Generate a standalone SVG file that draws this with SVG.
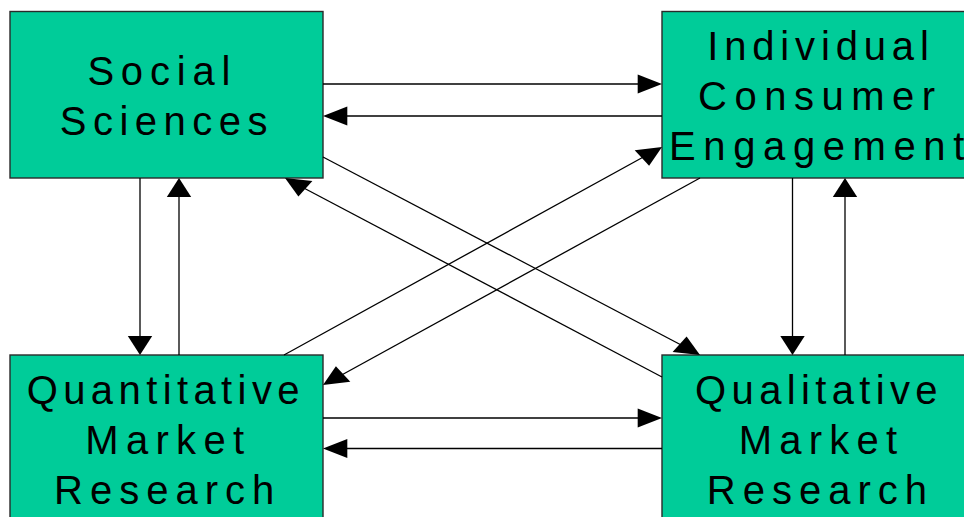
<svg xmlns="http://www.w3.org/2000/svg" width="964" height="517" viewBox="0 0 964 517">
  <style>
    .box { fill: #00CC99; stroke: #2a2a2a; stroke-width: 1.4; }
    .lbl { font-family: "Liberation Sans", Arial, sans-serif; font-size: 40px; fill: #000; }
    .ln { stroke: #000; stroke-width: 1.3; fill: none; }
    .head { fill: #000; stroke: none; }
  </style>
  <rect width="964" height="517" fill="#fff"/>

  <g id="social-sciences">
    <rect class="box" x="10" y="11.5" width="313" height="166.5"/>
    <text class="lbl" x="87.4" y="85" letter-spacing="6.8">Social</text>
    <text class="lbl" x="59.8" y="135" letter-spacing="6.5">Sciences</text>
  </g>

  <g id="individual-consumer-engagement">
    <rect class="box" x="662" y="11.5" width="310" height="166.5"/>
    <text class="lbl" x="707.2" y="60" letter-spacing="5.85">Individual</text>
    <text class="lbl" x="698" y="110" letter-spacing="7.5">Consumer</text>
    <text class="lbl" x="669.1" y="159.5" letter-spacing="7.6">Engagement</text>
  </g>

  <g id="quantitative-market-research">
    <rect class="box" x="10" y="355" width="313" height="175"/>
    <text class="lbl" x="26.7" y="403.5" letter-spacing="5.4">Quantitative</text>
    <text class="lbl" x="85.3" y="454" letter-spacing="7.3">Market</text>
    <text class="lbl" x="54.1" y="504" letter-spacing="7">Research</text>
  </g>

  <g id="qualitative-market-research">
    <rect class="box" x="662" y="355" width="310" height="175"/>
    <text class="lbl" x="695.1" y="403.5" letter-spacing="5.35">Qualitative</text>
    <text class="lbl" x="738.7" y="454" letter-spacing="7.25">Market</text>
    <text class="lbl" x="706.8" y="504" letter-spacing="7">Research</text>
  </g>

  <g id="connectors">
    <!-- top pair: Social Sciences <-> Individual Consumer Engagement -->
    <line class="ln" x1="323" y1="84" x2="640" y2="84"/>
    <polygon class="head" points="662,84 637.7,74.5 637.7,93.5"/>
    <line class="ln" x1="662" y1="116" x2="345" y2="116"/>
    <polygon class="head" points="323,116 347.3,106.5 347.3,125.5"/>

    <!-- bottom pair: Quantitative <-> Qualitative -->
    <line class="ln" x1="323" y1="418" x2="640" y2="418"/>
    <polygon class="head" points="662,418 637.7,408.5 637.7,427.5"/>
    <line class="ln" x1="662" y1="448.5" x2="345" y2="448.5"/>
    <polygon class="head" points="323,448.5 347.3,439 347.3,458"/>

    <!-- left pair: Social Sciences <-> Quantitative -->
    <line class="ln" x1="140" y1="178" x2="140" y2="338"/>
    <polygon class="head" points="140,355 127.8,336 152.2,336"/>
    <line class="ln" x1="179" y1="355" x2="179" y2="195"/>
    <polygon class="head" points="179,178 166.8,197 191.2,197"/>

    <!-- right pair: Individual Consumer Engagement <-> Qualitative -->
    <line class="ln" x1="792.5" y1="178" x2="792.5" y2="338"/>
    <polygon class="head" points="792.5,355 780.3,336 804.7,336"/>
    <line class="ln" x1="845" y1="355" x2="845" y2="195"/>
    <polygon class="head" points="845,178 832.8,197 857.2,197"/>

    <!-- diagonals -->
    <line class="ln" x1="323" y1="157" x2="685" y2="347"/>
    <polygon class="head" points="700,355 672.6,352.1 686.6,336.4"/>
    <line class="ln" x1="662" y1="377" x2="300" y2="186"/>
    <polygon class="head" points="285,178 312.4,180.9 298.4,196.6"/>
    <line class="ln" x1="284" y1="355" x2="647" y2="155"/>
    <polygon class="head" points="662,147 649.1,165.8 634.7,150.3"/>
    <line class="ln" x1="700" y1="178" x2="338" y2="377"/>
    <polygon class="head" points="323,385 335.9,366.2 350.3,381.7"/>
  </g>
</svg>
